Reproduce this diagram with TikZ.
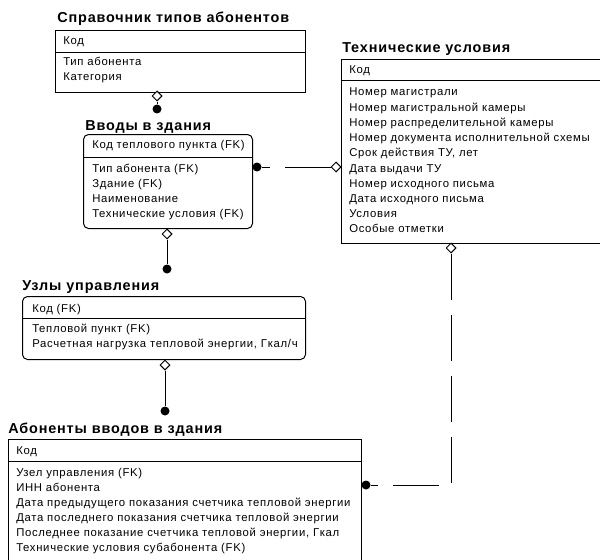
\documentclass[tikz,border=0pt]{standalone}
\usepackage{fontspec}
\setmainfont{Liberation Sans}[LetterSpace=6]
\usetikzlibrary{shapes.geometric}
\begin{document}
\begin{tikzpicture}[x=0.75pt,y=-0.75pt,
  ent/.style={draw, line width=0.75pt, fill=white, inner sep=0, anchor=north west},
  ttl/.style={font=\bfseries\fontsize{10.8}{12}\selectfont, anchor=base west, inner sep=0},
  fld/.style={font=\fontsize{8.5}{10}\selectfont, anchor=base west, inner sep=0},
  dia/.style={diamond, draw, fill=white, line width=0.75pt, inner sep=0, minimum size=7.5pt},
  dot/.style={circle, fill=black, inner sep=0, minimum size=6.75pt},
  rel/.style={line width=0.75pt, dash pattern=on 34.5pt off 11.25pt},
  idrel/.style={line width=0.75pt}]
\useasboundingbox (0,0) rectangle (600,560);
\clip (0,0) rectangle (600,560);

% Entity 1
\node[ttl] (t1) at (57,23) {Справочник типов абонентов};
\node[ent, minimum width=187.5pt, minimum height=46.5pt] (b1) at (55,30) {};
\draw[line width=0.75pt] (55,53) -- (305,53);
\node[fld] (b1k) at (63,45) {Код};
\foreach [count=\i from 0] \t in {Тип абонента, Категория}
  \node[fld] (b1f\i) at (63,66+15*\i) {\t};

% Entity 2
\node[ttl] (t2) at (85,130) {Вводы в здания};
\node[ent, rounded corners=3.75pt, minimum width=126.75pt, minimum height=70.5pt] (b2) at (83,134) {};
\draw[line width=0.75pt] (83,157) -- (252,157);
\node[fld] (b2k) at (92,148) {Код теплового пункта (FK)};
\foreach [count=\i from 0] \t in {Тип абонента (FK), Здание (FK), Наименование, Технические условия (FK)}
  \node[fld] (b2f\i) at (92,172+15*\i) {\t};

% Entity TU
\node[ttl] (t3) at (342,53) {Технические условия};
\node[ent, minimum width=210pt, minimum height=138pt] (tu) at (341,59) {};
\draw[line width=0.75pt] (341,81) -- (621,81);
\node[fld] (tuk) at (349,74) {Код};
\foreach [count=\i from 0] \t in {Номер магистрали, Номер магистральной камеры, Номер распределительной камеры, Номер документа исполнительной схемы, {Срок действия ТУ, лет}, Дата выдачи ТУ, Номер исходного письма, Дата исходного письма, Условия, Особые отметки}
  \node[fld] (tuf\i) at (349,96+15.2*\i) {\t};

% Entity 3
\node[ttl] (t4) at (22,290) {Узлы управления};
\node[ent, rounded corners=3.75pt, minimum width=212.25pt, minimum height=47.25pt] (b3) at (22,296) {};
\draw[line width=0.75pt] (22,318) -- (305,318);
\node[fld] (b3k) at (32,312) {Код (FK)};
\foreach [count=\i from 0] \t in {Тепловой пункт (FK), {Расчетная нагрузка тепловой энергии, Гкал/ч}}
  \node[fld] (b3f\i) at (32,332+15*\i) {\t};

% Entity 4
\node[ttl] (t5) at (8,433) {Абоненты вводов в здания};
\node[ent, minimum width=264.75pt, minimum height=105pt] (b4) at (8,439) {};
\draw[line width=0.75pt] (8,461) -- (361,461);
\node[fld] (b4k) at (16,454) {Код};
\foreach [count=\i from 0] \t in {Узел управления (FK), ИНН абонента, Дата предыдущего показания счетчика тепловой энергии, Дата последнего показания счетчика тепловой энергии, {Последнее показание счетчика тепловой энергии, Гкал}, Технические условия субабонента (FK)}
  \node[fld] (b4f\i) at (16,476+15*\i) {\t};

% Relationships
\node[dia] (d1) at (157,96) {};
\node[dot] (c1) at (157,109) {};
\draw[idrel] (d1) -- (c1);

\node[dia] (d2) at (336,167) {};
\node[dot] (c2) at (257,167) {};
\draw[rel] (d2.west) -- (c2.east);

\node[dia] (d3) at (167,234) {};
\node[dot] (c3) at (167,269) {};
\draw[idrel] (d3.south) -- (c3);

\node[dia] (d4) at (165,365) {};
\node[dot] (c4) at (165,411) {};
\draw[idrel] (d4.south) -- (c4);

\node[dia] (d5) at (451,248) {};
\node[dot] (c5) at (366,485) {};
\draw[rel] (d5.south) |- (c5.east);
\end{tikzpicture}
\end{document}
